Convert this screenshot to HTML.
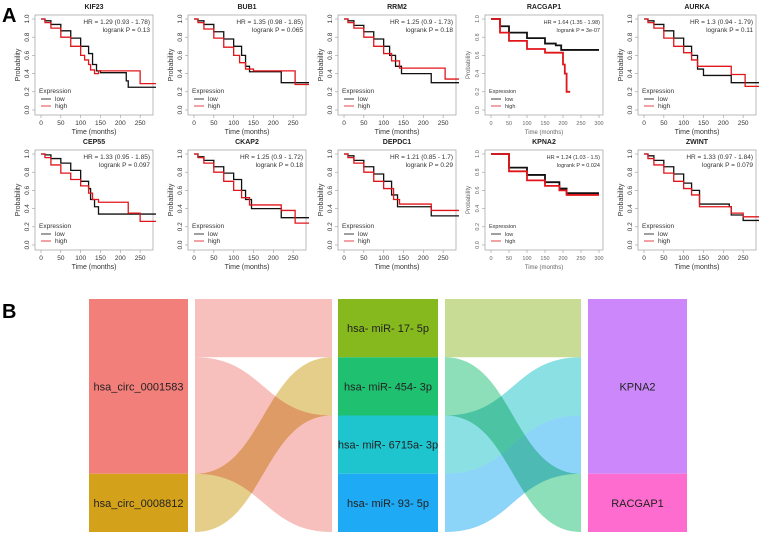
<!DOCTYPE html>
<html><head><meta charset="utf-8"><style>
html,body{margin:0;padding:0;background:#fff;}
body{width:759px;height:537px;overflow:hidden;font-family:"Liberation Sans",sans-serif;}
svg{display:block}
</style></head><body>
<svg id="fig" width="759" height="537" viewBox="0 0 759 537" xmlns="http://www.w3.org/2000/svg">
<text x="2" y="22" font-size="20" font-weight="bold" fill="#000">A</text>
<text x="2" y="318" font-size="20" font-weight="bold" fill="#000">B</text>
<g id="km"></g>
<g id="sankey"></g>
</svg>
<script>
const NS="http://www.w3.org/2000/svg";
// ---- KM data ----
const kmGenes=["KIF23","BUB1","RRM2","RACGAP1","AURKA","CEP55","CKAP2","DEPDC1","KPNA2","ZWINT"];
const kmHR=["HR = 1.29 (0.93 - 1.78)","HR = 1.35 (0.98 - 1.85)","HR = 1.25 (0.9 - 1.73)","HR = 1.64 (1.35 - 1.98)","HR = 1.3 (0.94 - 1.79)","HR = 1.33 (0.95 - 1.85)","HR = 1.25 (0.9 - 1.72)","HR = 1.21 (0.85 - 1.7)","HR = 1.24 (1.03 - 1.5)","HR = 1.33 (0.97 - 1.84)"];
const kmP=["logrank P = 0.13","logrank P = 0.065","logrank P = 0.18","logrank P = 3e-07","logrank P = 0.11","logrank P = 0.097","logrank P = 0.18","logrank P = 0.29","logrank P = 0.024","logrank P = 0.079"];
const kmStyle2=[false,false,false,true,false,false,false,false,true,false];
const kmLow=[
[[0,1],[10,.98],[25,.94],[50,.87],[75,.79],[100,.7],[120,.62],[130,.5],[140,.43],[150,.41],[210,.41],[215,.32],[220,.25],[290,.25]],
[[0,1],[10,.98],[25,.94],[50,.86],[75,.78],[100,.7],[120,.6],[130,.48],[140,.42],[210,.42],[220,.3],[290,.3]],
[[0,1],[10,.98],[25,.93],[50,.86],[75,.78],[100,.7],[115,.6],[130,.48],[145,.4],[215,.4],[220,.3],[290,.3]],
[[0,1],[25,.92],[50,.85],[100,.79],[150,.73],[180,.71],[195,.66],[300,.66]],
[[0,1],[10,.98],[25,.94],[50,.87],[75,.79],[100,.7],[120,.6],[135,.45],[150,.38],[215,.38],[220,.3],[290,.3]],
[[0,1],[10,.99],[25,.95],[50,.9],[75,.82],[100,.7],[120,.62],[125,.5],[135,.42],[145,.34],[290,.34]],
[[0,1],[10,.97],[25,.93],[50,.86],[75,.79],[100,.72],[120,.6],[130,.5],[145,.4],[215,.4],[220,.3],[290,.3]],
[[0,1],[10,.98],[25,.93],[50,.86],[75,.78],[100,.7],[120,.55],[135,.42],[215,.42],[220,.32],[290,.32]],
[[0,1],[50,.85],[100,.77],[150,.69],[190,.62],[210,.57],[300,.57]],
[[0,1],[10,.98],[25,.93],[50,.86],[75,.78],[100,.68],[120,.6],[140,.45],[215,.42],[220,.33],[250,.27],[290,.27]]];
const kmHigh=[
[[0,1],[10,.96],[25,.9],[50,.8],[75,.7],[100,.6],[110,.55],[120,.5],[125,.44],[135,.4],[145,.43],[250,.43],[250,.29],[290,.29]],
[[0,1],[10,.96],[25,.89],[50,.79],[75,.69],[100,.6],[115,.52],[130,.45],[150,.43],[250,.43],[255,.28],[290,.28]],
[[0,1],[10,.96],[25,.9],[50,.8],[75,.7],[100,.62],[120,.54],[140,.46],[250,.46],[255,.34],[290,.34]],
[[0,1],[25,.85],[50,.76],[100,.67],[150,.63],[198,.63],[200,.5],[205,.4],[210,.2],[220,.2]],
[[0,1],[10,.96],[25,.9],[50,.79],[75,.7],[100,.63],[120,.55],[135,.48],[215,.48],[220,.39],[250,.39],[255,.26],[290,.26]],
[[0,1],[10,.96],[25,.88],[50,.79],[75,.72],[100,.65],[120,.57],[130,.5],[145,.47],[215,.47],[220,.35],[250,.35],[250,.26],[290,.26]],
[[0,1],[10,.96],[25,.9],[50,.8],[75,.7],[100,.6],[120,.52],[140,.44],[215,.44],[220,.38],[250,.38],[255,.24],[290,.24]],
[[0,1],[10,.96],[25,.9],[50,.8],[75,.7],[100,.62],[125,.5],[140,.45],[215,.45],[220,.38],[290,.38]],
[[0,1],[50,.81],[100,.71],[150,.65],[190,.6],[210,.55],[300,.55]],
[[0,1],[10,.95],[25,.88],[50,.79],[75,.7],[100,.62],[120,.55],[140,.42],[215,.42],[220,.35],[250,.31],[290,.31]]];
const kmXTicks=[0,50,100,150,200,250];
const kmXTicks2=[0,50,100,150,200,250,300];
const kmYTicks=[0,0.2,0.4,0.6,0.8,1.0];
// ---- Sankey data ----
const srcNodes=["hsa_circ_0001583","hsa_circ_0008812"];
const srcVals=[3,1];
const midNodes=["hsa- miR- 17- 5p","hsa- miR- 454- 3p","hsa- miR- 6715a- 3p","hsa- miR- 93- 5p"];
const midVals=[1,1,1,1];
const tgtNodes=["KPNA2","RACGAP1"];
const tgtVals=[3,1];
const links1=[[0,0,1],[0,2,1],[0,3,1],[1,1,1]];
const links2=[[0,0,1],[1,1,1],[2,0,1],[3,0,1]];

function mk(tag,attrs,parent){const e=document.createElementNS(NS,tag);for(const k in attrs)e.setAttribute(k,attrs[k]);parent.appendChild(e);return e;}
const km=document.getElementById('km');
const boxL=[35,188,338,485,638];
const rowT=[15,150];
kmGenes.forEach((g,i)=>{
  const col=i%5,row=Math.floor(i/5);
  const s2=kmStyle2[i];
  const bx=boxL[col],by=rowT[row],bw=118,bh=100;
  const xmax=s2?300:290;
  const x0=bx+6,xw=s2?108:115;
  const X=t=>x0+t/xmax*xw;
  const Y=p=>by+4+(1-p)*91;
  const grp=mk('g',{},km);
  
  
  const tc=s2?'#666':'#333';
  const t=mk('text',{x:bx+bw/2,y:by-6,'font-size':7,'font-weight':'bold','text-anchor':'middle',fill:'#222'},grp);t.textContent=g;
  
  
  const box=mk('rect',{x:bx,y:by,width:bw,height:bh,fill:'none',stroke:'#aaa','stroke-width':0.8},grp);
  
  
  (s2?kmXTicks2:kmXTicks).forEach(v=>{
    mk('line',{x1:X(v),x2:X(v),y1:by+bh,y2:by+bh+3,stroke:'#999','stroke-width':.6},grp);
    const l=mk('text',{x:X(v),y:by+bh+10,'font-size':s2?5.5:6.5,'text-anchor':'middle',fill:tc},grp);l.textContent=v;
    
    
  });
  kmYTicks.forEach(v=>{
    mk('line',{x1:bx,x2:bx-3,y1:Y(v),y2:Y(v),stroke:'#999','stroke-width':.6},grp);
    const l=mk('text',{x:bx-6,y:Y(v),'font-size':s2?5.5:6.5,'text-anchor':'middle',fill:tc,transform:`rotate(-90 ${bx-6} ${Y(v)})`},grp);l.textContent=v.toFixed(1);
    
    
  });
  const xt=mk('text',{x:bx+bw/2,y:by+bh+19,'font-size':s2?6:7,'text-anchor':'middle',fill:tc},grp);xt.textContent='Time (months)';
  
  
  const yt=mk('text',{x:bx-15,y:by+bh/2,'font-size':s2?6:7,'text-anchor':'middle',fill:tc,transform:`rotate(-90 ${bx-15} ${by+bh/2})`},grp);yt.textContent='Probability';
  
  
  const h1=mk('text',{x:bx+bw-3,y:by+9,'font-size':s2?5.5:6.5,'text-anchor':'end',fill:'#333'},grp);h1.textContent=kmHR[i];
  
  
  const h2=mk('text',{x:bx+bw-3,y:by+17,'font-size':s2?5.5:6.5,'text-anchor':'end',fill:'#333'},grp);h2.textContent=kmP[i];
  
  
  function step(pts,color,name,w){
    let d=`M${X(pts[0][0])},${Y(pts[0][1])}`;
    for(let k=1;k<pts.length;k++){d+=`H${X(pts[k][0])}V${Y(pts[k][1])}`;}
    const p=mk('path',{d:d,fill:'none',stroke:color,'stroke-width':w},grp);
    
    
  }
  step(kmLow[i],'#111','low-curve',s2?1.8:1.3);
  step(kmHigh[i],'#e0161b','high-curve',s2?1.8:1.3);
  const le=mk('text',{x:bx+4,y:by+bh-22,'font-size':s2?5.5:6.5,fill:'#333'},grp);le.textContent='Expression';
  
  
  [['low','#111'],['high','#e0161b']].forEach((e,k)=>{
    const yy=by+bh-14+k*7;
    mk('line',{x1:bx+6,x2:bx+16,y1:yy-2,y2:yy-2,stroke:e[1],'stroke-width':.8},grp);
    const lt=mk('text',{x:bx+20,y:yy,'font-size':s2?5.5:6.5,fill:'#333'},grp);lt.textContent=e[0];
    
    
  });
});
// ---- Sankey ----
const sk=document.getElementById('sankey');
const top0=299,unit=58.25;
const colX=[[89,188],[338,438],[588,687]];
const srcColors=['#f37f7b','#d4a21a'];
const midColors=['#86b91d','#1fc06f','#1ec5cf','#1eaaf5'];
const tgtColors=['#cc88fa','#fe6ccf'];
const linkCol1=['#f7b9b6','#f7b9b6','#f7b9b6','#e2c97c'];
const linkCol2=['#c3d88a','#80dcb0','#7ddde0','#80d0f8'];
function nodes(names,vals,colors,cx,label){
  let y=top0;
  names.forEach((n,i)=>{
    const h=vals[i]*unit;
    const r=mk('rect',{x:cx[0],y:y,width:cx[1]-cx[0],height:h,fill:colors[i]},sk);
    
    
    const t=mk('text',{x:(cx[0]+cx[1])/2,y:y+h/2+4,'font-size':11,'text-anchor':'middle',fill:'#222'},sk);t.textContent=n;
    
    
    y+=h;
  });
}
function drawLinks(ls,x1,x2,srcVals,tgtVals,cols,name){
  const sBase=[],tBase=[];let a=0;srcVals.forEach(v=>{sBase.push(a);a+=v;});a=0;tgtVals.forEach(v=>{tBase.push(a);a+=v;});
  const sUsed={},tUsed={};
  const order=ls.map((l,i)=>i);
  const tOrder=order.slice().sort((p,q)=>ls[p][0]-ls[q][0]);
  const tPos={};
  tOrder.forEach(i=>{const l=ls[i];const u=tUsed[l[1]]||0;tPos[i]=tBase[l[1]]+u;tUsed[l[1]]=u+l[2];});
  ls.forEach((l,i)=>{
    const u=sUsed[l[0]]||0;const sy=sBase[l[0]]+u;sUsed[l[0]]=u+l[2];
    const ty=tPos[i];
    const ys0=top0+sy*unit,ys1=ys0+l[2]*unit,yt0=top0+ty*unit,yt1=yt0+l[2]*unit;
    const xm=(x1+x2)/2;
    const d=`M${x1},${ys0}C${xm},${ys0} ${xm},${yt0} ${x2},${yt0}L${x2},${yt1}C${xm},${yt1} ${xm},${ys1} ${x1},${ys1}Z`;
    const p=mk('path',{d:d,fill:cols[i],'fill-opacity':0.9,'style':'mix-blend-mode:multiply'},sk);
    
    
  });
}
drawLinks(links1,195,332,srcVals,midVals,linkCol1,'link-circ-mir');
drawLinks(links2,445,581,midVals,tgtVals,linkCol2,'link-mir-gene');
nodes(srcNodes,srcVals,srcColors,colX[0],'circrna');
nodes(midNodes,midVals,midColors,colX[1],'mirna');
nodes(tgtNodes,tgtVals,tgtColors,colX[2],'gene');
</script>
</body></html>
